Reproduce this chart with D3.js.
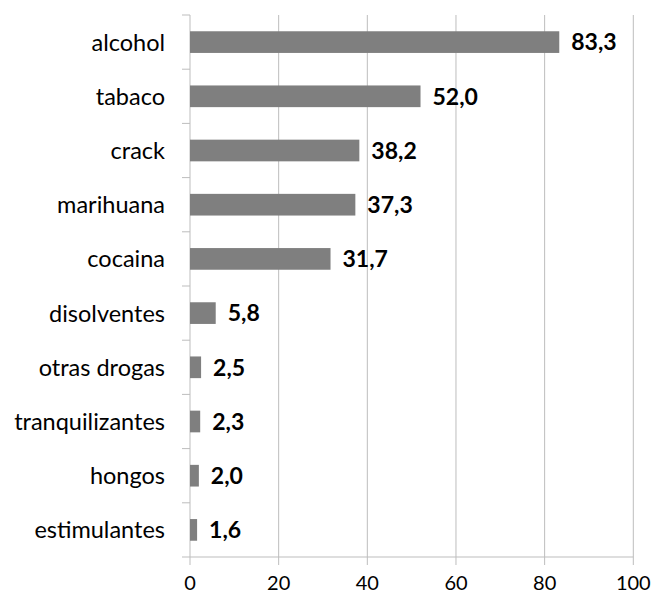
<!DOCTYPE html>
<html><head><meta charset="utf-8">
<script src="https://cdn.jsdelivr.net/npm/d3@7/dist/d3.min.js"></script>
<style>body{margin:0;background:#fff}svg{display:block}</style>
</head><body>
<svg id="c" width="652" height="595"></svg>
<script>
const categories = ["alcohol","tabaco","crack","marihuana","cocaina","disolventes","otras drogas","tranquilizantes","hongos","estimulantes"];
const values = [83.3,52.0,38.2,37.3,31.7,5.8,2.5,2.3,2.0,1.6];
const xTicks = [0,20,40,60,80,100];

(function(){
const svg = d3.select("#c");
const mL = 190, mR = 633.3, mT = 15, mB = 557;
const font = "Lato, 'Open Sans', sans-serif";
const x = d3.scaleLinear().domain([0,100]).range([mL,mR]);
const y = d3.scaleBand().domain(categories).range([mT,mB]).paddingInner(0.6).paddingOuter(0.3);
const grid = "#bdbdbd";

svg.append("g").selectAll("line").data(xTicks.slice(1)).join("line")
  .attr("x1",d=>x(d)).attr("x2",d=>x(d)).attr("y1",mT).attr("y2",mB+8)
  .attr("stroke",grid).attr("stroke-width",1);
svg.append("line").attr("x1",mL).attr("x2",mR).attr("y1",mB).attr("y2",mB).attr("stroke",grid);
svg.append("line").attr("x1",mL).attr("x2",mL).attr("y1",mT).attr("y2",mB+8).attr("stroke",grid);
const step = (mB-mT)/categories.length;
svg.append("g").selectAll("line").data(d3.range(categories.length+1)).join("line")
  .attr("x1",mL-8).attr("x2",mL).attr("y1",i=>mT+i*step).attr("y2",i=>mT+i*step)
  .attr("stroke",grid);

svg.append("g").selectAll("rect").data(values).join("rect")
  .attr("x",x(0)).attr("y",(d,i)=>y(categories[i]))
  .attr("width",d=>x(d)-x(0)).attr("height",y.bandwidth())
  .attr("fill","#7f7f7f");

svg.append("g").selectAll("text").data(values).join("text")
  .attr("x",d=>x(d)+12).attr("y",(d,i)=>y(categories[i])+y.bandwidth()/2)
  .attr("dy","0.36em").attr("font-family",font).attr("font-size",23).attr("font-weight","bold")
  .attr("fill","#000").text(d=>d.toFixed(1).replace(".",","));

svg.append("g").selectAll("text").data(categories).join("text")
  .attr("x",165).attr("y",d=>y(d)+y.bandwidth()/2).attr("dy","0.36em")
  .attr("text-anchor","end").attr("font-family",font).attr("font-size",23.5).attr("fill","#000").text(d=>d);

svg.append("g").selectAll("text").data(xTicks).join("text")
  .attr("x",d=>x(d)).attr("y",590).attr("text-anchor","middle")
  .attr("font-family",font).attr("font-size",20).attr("fill","#000").text(d=>d);
})();
</script>
</body></html>
